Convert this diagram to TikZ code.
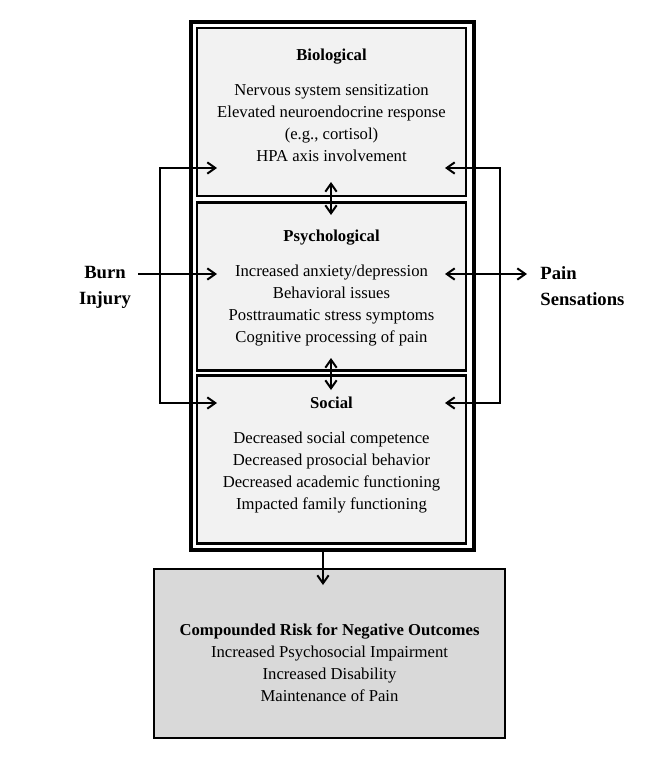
\documentclass[tikz,border=0pt]{standalone}
\usepackage{fontspec}
\setmainfont{Liberation Serif}
\usetikzlibrary{arrows.meta}

\begin{document}
\begin{tikzpicture}[x=0.75pt,y=-0.75pt,>={Straight Barb[length=6pt,width=8.5pt]},line width=1.5pt,
  layer box/.style={draw,fill=gray!10,line width=1.9pt,minimum width=201.75pt,minimum height=126pt,inner sep=0pt},
  layer text/.style={align=center,font=\fontsize{12.5pt}{16.5pt}\selectfont},
  side label/.style={align=center,font=\fontsize{14pt}{19.5pt}\selectfont\bfseries}]

  \useasboundingbox (0,0) rectangle (662,757);

  % outer frame and the three layers
  \node[draw,line width=2.3pt,minimum width=212.25pt,minimum height=396pt,inner sep=0pt] (frame) at (332.5,286) {};
  \node[layer box] (bio) at (331.5,112) {};
  \node[layer box] (psy) at (331.5,286.5) {};
  \node[layer box] (soc) at (331.5,459.5) {};
  \node[draw,fill=gray!30,line width=1.9pt,minimum width=263.25pt,minimum height=126.75pt,inner sep=0pt] (out) at (329.5,653.5) {};

  \node[layer text] (biotxt) at (331.5,105) {\textbf{Biological}\\[9.75pt]
    Nervous system sensitization\\ Elevated neuroendocrine response\\ (e.g., cortisol)\\ HPA axis involvement};
  \node[layer text] (psytxt) at (331.5,288.5) {\textbf{Psychological}\\[9.75pt]
    Increased anxiety/depression\\ Behavioral issues\\ Posttraumatic stress symptoms\\ Cognitive processing of pain};
  \node[layer text] (soctxt) at (331.5,455.5) {\textbf{Social}\\[9.75pt]
    Decreased social competence\\ Decreased prosocial behavior\\ Decreased academic functioning\\ Impacted family functioning};
  \node[layer text] (outtxt) at (329.5,662.5) {\textbf{Compounded Risk for Negative Outcomes}\\
    Increased Psychosocial Impairment\\ Increased Disability\\ Maintenance of Pain};

  \node[side label] (burn) at (105,287) {Burn\\Injury};
  \node[side label,align=left,anchor=west] (pain) at (535,286) {Pain\\Sensations};

  % arrow ends
  \coordinate (bioL) at (217,168);
  \coordinate (psyL) at (217,274);
  \coordinate (socL) at (217,403);
  \coordinate (bioR) at (445,168);
  \coordinate (psyR) at (445,274);
  \coordinate (socR) at (445,403);
  \coordinate (busL) at (160,274);
  \coordinate (busR) at (500,274);
  \coordinate (burnout) at (138,274);
  \coordinate (painin) at (527,274);
  \coordinate (bp1) at (331,182);
  \coordinate (bp2) at (331,215);
  \coordinate (ps1) at (331,358);
  \coordinate (ps2) at (331,390);

  \draw[->] (burnout) -- (psyL);
  \draw[<->] (bioL) -| (busL) |- (socL);
  \draw[<->] (psyR) -- (painin);
  \draw[<->] (bioR) -| (busR) |- (socR);
  \draw[<->] (bp1) -- (bp2);
  \draw[<->] (ps1) -- (ps2);
  \draw[->] (frame.south -| out.north) ++(-6.5,0) coordinate (drop) -- (drop |- 0,585);
\end{tikzpicture}
\end{document}
